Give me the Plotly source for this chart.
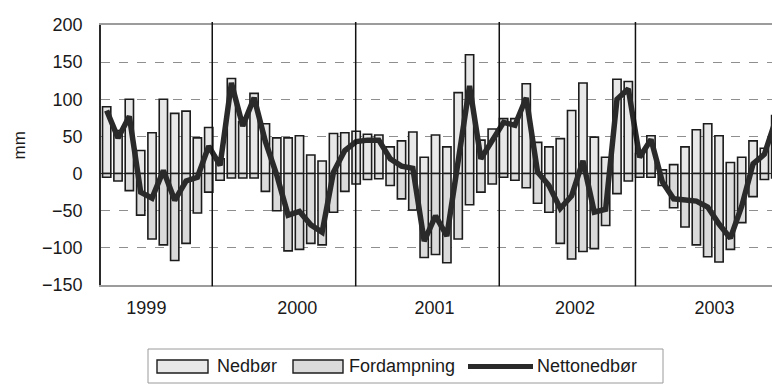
import pandas as pd
import plotly.graph_objects as go

# Monthly water balance, January 1999 - December 2003 (mm)
months = pd.date_range("1999-01-01", periods=60, freq="MS").strftime("%Y-%m").tolist()

nedbor = [90, 58, 100, 31, 55, 100, 81, 84, 48, 62, 20, 128,
          70, 108, 67, 48, 48, 51, 25, 17, 54, 55, 57, 53,
          52, 36, 44, 56, 22, 52, 36, 109, 160, 45, 60, 74,
          74, 121, 42, 36, 47, 85, 122, 49, 22, 127, 124, 27,
          51, 5, 12, 36, 59, 67, 51, 15, 22, 44, 34, 78]

fordampning = [-5, -10, -23, -56, -88, -96, -117, -94, -53, -25, -9, -6,
               -6, -6, -24, -50, -104, -102, -94, -96, -52, -24, -14, -8,
               -7, -16, -34, -49, -113, -109, -120, -88, -42, -25, -14, -5,
               -9, -19, -40, -52, -94, -115, -105, -101, -70, -27, -10, -5,
               -5, -16, -46, -72, -96, -112, -119, -102, -66, -31, -8, -6]

nettonedbor = [85, 48, 77, -25, -33, 4, -36, -10, -5, 37, 11, 122,
               64, 102, 43, -2, -56, -51, -69, -79, 2, 31, 43, 45,
               45, 20, 10, 7, -91, -57, -84, 21, 118, 20, 46, 69,
               65, 102, 2, -16, -47, -30, 17, -52, -48, 100, 114, 22,
               46, -11, -34, -36, -37, -45, -68, -87, -44, 13, 26, 72]

year_labels = ["1999", "2000", "2001", "2002", "2003"]
year_label_pos = [3.5, 16.8, 28.9, 41.3, 53.6]     # month-index positions of the year labels
year_dividers = [9.31, 21.96, 34.62, 46.63]        # vertical divider lines between the years

x = list(range(len(months)))

NED_FILL = "#e8e8e8"
FORD_FILL = "#dadada"
EDGE = "#1c1c1c"
LINE = "#2a2a2a"
FONT = "Liberation Sans, Arial, sans-serif"

# plot-area geometry in pixels
W_PX, H_PX = 772, 385
L, T, B_MARGIN = 101, 25, 100
PW = W_PX - L
PH = H_PX - T - B_MARGIN
BOTTOM = T + PH


def px_x(p):
    return (p - L) / PW


def px_y(p):
    return (BOTTOM - p) / PH


fig = go.Figure()
fig.add_trace(go.Bar(x=x, y=nedbor, name="Nedbør",
                     marker=dict(color=NED_FILL, line=dict(color=EDGE, width=1.6))))
fig.add_trace(go.Bar(x=x, y=fordampning, name="Fordampning",
                     marker=dict(color=FORD_FILL, line=dict(color=EDGE, width=1.6))))
fig.add_trace(go.Scatter(x=x, y=nettonedbor, name="Nettonedbør", mode="lines",
                         line=dict(color=LINE, width=5.5)))

shapes = []
for d in year_dividers:
    shapes.append(dict(type="line", xref="x", yref="paper", x0=d, x1=d, y0=-0.005, y1=1.012,
                       line=dict(color="#111111", width=1.5), layer="above"))

# legend box with wide swatches
leg_top, leg_bot = 349, 383
shapes.append(dict(type="rect", xref="paper", yref="paper",
                   x0=px_x(148), x1=px_x(663), y0=px_y(leg_bot), y1=px_y(leg_top),
                   line=dict(color="#9a9a9a", width=1), fillcolor="white"))
sw_top, sw_bot = 360, 373
for x0p, x1p, fill in [(157, 208, NED_FILL), (293, 343, FORD_FILL)]:
    shapes.append(dict(type="rect", xref="paper", yref="paper",
                       x0=px_x(x0p), x1=px_x(x1p), y0=px_y(sw_bot), y1=px_y(sw_top),
                       line=dict(color=EDGE, width=1.4), fillcolor=fill))
shapes.append(dict(type="line", xref="paper", yref="paper",
                   x0=px_x(468), x1=px_x(533), y0=px_y(366.5), y1=px_y(366.5),
                   line=dict(color=LINE, width=5)))

annotations = [
    dict(text="mm", xref="paper", yref="paper", x=px_x(18.5), y=px_y(146),
         showarrow=False, textangle=-90, font=dict(size=17, color="#1a1a1a", family=FONT),
         xanchor="center", yanchor="middle"),
]
for tx, name in [(215, "Nedbør"), (347, "Fordampning"), (535, "Nettonedbør")]:
    annotations.append(dict(text=name, xref="paper", yref="paper", x=px_x(tx), y=px_y(366),
                            showarrow=False, xanchor="left", yanchor="middle",
                            font=dict(size=18, color="#1a1a1a", family=FONT)))

fig.update_layout(
    width=W_PX, height=H_PX,
    margin=dict(l=L, r=0, t=T, b=B_MARGIN, pad=0),
    paper_bgcolor="white", plot_bgcolor="white",
    barmode="relative", bargap=0.27,
    showlegend=False,
    font=dict(family=FONT, size=18, color="#1a1a1a"),
    shapes=shapes, annotations=annotations,
)
fig.update_xaxes(
    range=[-0.5, (W_PX - L) / 11.34 - 0.5],
    tickmode="array", tickvals=year_label_pos, ticktext=year_labels,
    showgrid=False, zeroline=False, ticks="",
    showline=True, mirror=True, linecolor="#9c9c9c", linewidth=2.2,
    ticklabelstandoff=5, tickfont=dict(size=18),
)
fig.update_yaxes(
    range=[-150, 200], dtick=50, tick0=0,
    showgrid=True, gridcolor="#8f8f8f", gridwidth=1, griddash="dash",
    zeroline=True, zerolinecolor="#444444", zerolinewidth=1.2,
    showline=True, linecolor="#2a2a2a", linewidth=1.6, mirror=False,
    ticks="", ticklabelstandoff=13, tickfont=dict(size=18),
)

fig.write_html("out.html")
